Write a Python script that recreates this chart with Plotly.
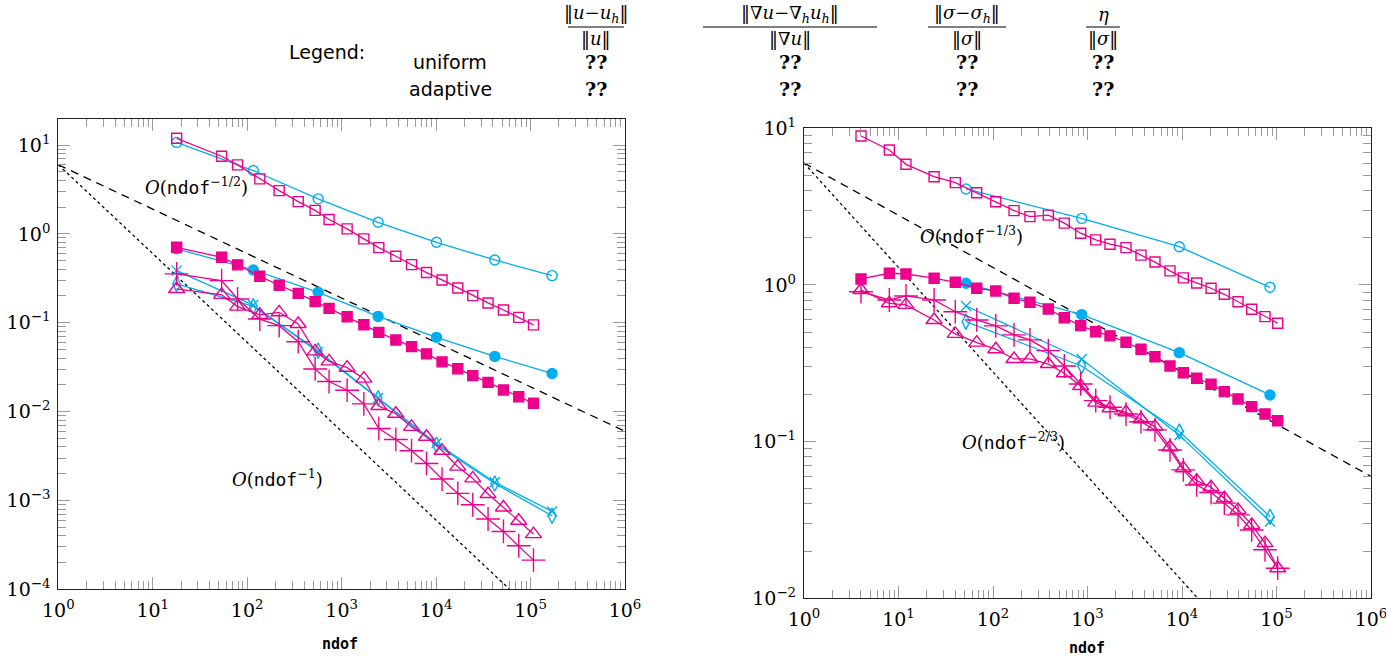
import plotly.graph_objects as go

# ---------------- data ----------------
# left plot
L_unif_ndof = [17.9, 116, 564, 2433, 10100, 41800, 169000]
L_unif_u = [10.7, 5.16, 2.48, 1.35, 0.804, 0.509, 0.339]          # open circle
L_unif_grad = [0.68, 0.393, 0.220, 0.118, 0.0685, 0.0418, 0.0269]  # filled circle
L_unif_sigma = [0.386, 0.158, 0.047, 0.0142, 0.0044, 0.0016, 0.000752]  # x
L_unif_eta = [0.2735, 0.153, 0.0485, 0.0141, 0.00424, 0.00155, 0.000673]  # diamond

L_adap_ndof = [17.9, 53.6, 79.1, 136, 218, 347, 524, 736, 1143, 1718, 2475, 3747,
               5495, 7917, 11560, 16970, 24450, 35480, 51640, 75010, 107400]
L_adap_u = [11.9, 7.48, 5.98, 4.16, 3.07, 2.31, 1.84, 1.45, 1.14, 0.878, 0.701, 0.560,
            0.451, 0.367, 0.303, 0.246, 0.202, 0.167, 0.139, 0.115, 0.0945]
L_adap_grad = [0.706, 0.545, 0.448, 0.333, 0.264, 0.214, 0.173, 0.145, 0.117, 0.0950,
               0.0779, 0.0640, 0.0538, 0.0446, 0.0363, 0.0304, 0.0254, 0.0213, 0.0175,
               0.0147, 0.0124]
L_adap_sigma = [0.355, 0.298, 0.185, 0.110, 0.0927, 0.0612, 0.0302, 0.0218, 0.0174,
                0.0122, 0.00645, 0.00486, 0.00363, 0.00261, 0.00174, 0.00120, 0.000895,
                0.000618, 0.000448, 0.000309, 0.000213]  # plus
L_adap_eta = [0.240, 0.206, 0.152, 0.1225, 0.131, 0.0969, 0.0476, 0.0367, 0.0312, 0.0235,
              0.01155, 0.00946, 0.00673, 0.00521, 0.00363, 0.00240, 0.00177, 0.00118,
              0.000834, 0.000591, 0.000418]  # triangle

# right plot
R_unif_ndof = [51.8, 868, 9360, 85350]
R_unif_u = [4.10, 2.66, 1.755, 0.966]
R_unif_grad = [1.025, 0.647, 0.370, 0.1986]
R_unif_sigma = [0.734, 0.337, 0.110, 0.0309]
R_unif_eta = [0.583, 0.304, 0.116, 0.0332]

R_adap_ndof = [4.01, 8.0, 12.0, 23.8, 39.9, 67.3, 107, 167, 246, 385, 568, 847, 1222,
               1730, 2555, 3683, 5176, 7464, 10320, 14310, 20290, 28050, 39170, 54690,
               75570, 103000]
R_adap_u = [8.93, 7.27, 5.89, 4.91, 4.50, 3.88, 3.40, 2.98, 2.73, 2.79, 2.48, 2.14, 1.94,
            1.82, 1.73, 1.55, 1.40, 1.23, 1.11, 1.03, 0.953, 0.872, 0.782, 0.700, 0.628,
            0.570]
R_adap_grad = [1.092, 1.188, 1.175, 1.104, 1.040, 0.953, 0.916, 0.822, 0.775, 0.703,
               0.618, 0.550, 0.503, 0.473, 0.431, 0.389, 0.3485, 0.304, 0.2755, 0.2538,
               0.2324, 0.2084, 0.1873, 0.1672, 0.150, 0.136]
R_adap_sigma = [0.906, 0.802, 0.851, 0.802, 0.675, 0.598, 0.548, 0.480, 0.446, 0.381,
                0.304, 0.2335, 0.1827, 0.1658, 0.150, 0.134, 0.1188, 0.0885, 0.0660,
                0.0529, 0.0473, 0.0405, 0.0341, 0.0273, 0.0204, 0.01556]
R_adap_eta = [0.929, 0.764, 0.746, 0.598, 0.487, 0.4285, 0.389, 0.337, 0.337, 0.313,
              0.273, 0.2267, 0.1774, 0.1633, 0.154, 0.139, 0.1248, 0.0921, 0.0676,
              0.0564, 0.0512, 0.0435, 0.0367, 0.0294, 0.0225, 0.01556]

# reference slopes: C * ndof^rate
ref_ndof = [1, 1e6]
ref_C = 6.0
L_rates = [(-0.5, "dash"), (-1.0, "dot")]
R_rates = [(-1.0 / 3.0, "dash"), (-2.0 / 3.0, "dot")]

x_ticks = [1, 10, 100, 1e3, 1e4, 1e5, 1e6]
x_ticktext = ["10<sup>0</sup>", "10<sup>1</sup>", "10<sup>2</sup>", "10<sup>3</sup>",
              "10<sup>4</sup>", "10<sup>5</sup>", "10<sup>6</sup>"]
L_y_ticks = [1e-4, 1e-3, 1e-2, 1e-1, 1, 10]
L_y_ticktext = ["10<sup>−4</sup>", "10<sup>−3</sup>", "10<sup>−2</sup>", "10<sup>−1</sup>",
                "10<sup>0</sup>", "10<sup>1</sup>"]
R_y_ticks = [1e-2, 1e-1, 1, 10]
R_y_ticktext = ["10<sup>−2</sup>", "10<sup>−1</sup>", "10<sup>0</sup>", "10<sup>1</sup>"]

# ---------------- styling ----------------
CYAN = "#00AEEF"
MAG = "#EC008C"
W, H = 1386, 660
SERIF = "DejaVu Serif, Liberation Serif, serif"
MONO = "DejaVu Sans Mono, Liberation Mono, monospace"
SANS = "DejaVu Sans, Liberation Sans, sans-serif"


def px(x):
    return x / W


def py(y):
    return 1 - y / H


fig = go.Figure()

series_style = [
    ("u", "circle-open", "square-open", 10, 10),
    ("grad", "circle", "square", 10, 10),
    ("sigma", "x-thin-open", "cross-thin-open", 10, 17),
    ("eta", "diamond-tall-open", "triangle-up-open", 11, 14),
]


def add_plot(xa, ya, unif_ndof, unif, adap_ndof, adap, rates):
    for r, dash in rates:
        fig.add_trace(go.Scatter(
            x=ref_ndof, y=[ref_C * n ** r for n in ref_ndof], mode="lines",
            line=dict(color="black", width=1.3, dash=dash if dash == "dot" else "8px,6px"),
            xaxis=xa, yaxis=ya, showlegend=False, hoverinfo="skip"))
    for (key, us, ads, usz, asz) in series_style:
        fig.add_trace(go.Scatter(
            x=unif_ndof, y=unif[key], mode="lines+markers",
            line=dict(color=CYAN, width=1.3),
            marker=dict(symbol=us, size=usz, color=CYAN, line=dict(color=CYAN, width=1.4)),
            xaxis=xa, yaxis=ya, showlegend=False))
    for (key, us, ads, usz, asz) in series_style:
        fig.add_trace(go.Scatter(
            x=adap_ndof, y=adap[key], mode="lines+markers",
            line=dict(color=MAG, width=1.3),
            marker=dict(symbol=ads, size=asz, color=MAG, line=dict(color=MAG, width=1.4)),
            xaxis=xa, yaxis=ya, showlegend=False))


add_plot("x", "y", L_unif_ndof,
         dict(u=L_unif_u, grad=L_unif_grad, sigma=L_unif_sigma, eta=L_unif_eta),
         L_adap_ndof,
         dict(u=L_adap_u, grad=L_adap_grad, sigma=L_adap_sigma, eta=L_adap_eta), L_rates)
add_plot("x2", "y2", R_unif_ndof,
         dict(u=R_unif_u, grad=R_unif_grad, sigma=R_unif_sigma, eta=R_unif_eta),
         R_adap_ndof,
         dict(u=R_adap_u, grad=R_adap_grad, sigma=R_adap_sigma, eta=R_adap_eta), R_rates)

TICKC = "#9a9a9a"
common = dict(
    type="log", showgrid=False, zeroline=False, showline=True, linecolor="#222",
    linewidth=1.3, mirror="allticks", ticks="inside", ticklen=12, tickcolor=TICKC,
    tickwidth=1.2, tickfont=dict(family=SERIF, size=19, color="black"), automargin=False,
    ticklabeloverflow="allow",
    minor=dict(ticks="inside", ticklen=8, tickcolor=TICKC, tickwidth=1.2, dtick="D1",
               showgrid=False),
)

fig.update_layout(
    width=W, height=H, margin=dict(l=0, r=0, t=0, b=0, autoexpand=False),
    paper_bgcolor="white", plot_bgcolor="white", showlegend=False,
    xaxis=dict(common, domain=[px(58.3), px(625)], range=[0, 6], tickvals=x_ticks,
               ticktext=x_ticktext, anchor="y", ticklabelstandoff=4),
    yaxis=dict(common, domain=[py(589.3), py(119)], range=[-4, 1.293], tickvals=L_y_ticks,
               ticktext=L_y_ticktext, anchor="x", ticklabelstandoff=3),
    xaxis2=dict(common, domain=[px(804), px(1371)], range=[0, 6], tickvals=x_ticks,
                ticktext=x_ticktext, anchor="y2", ticklabelstandoff=4),
    yaxis2=dict(common, domain=[py(598.3), py(128.3)], range=[-2, 1], tickvals=R_y_ticks,
                ticktext=R_y_ticktext, anchor="x2", ticklabelstandoff=3),
)

ann = []


def text(x, y, s, font, size, xanchor="center"):
    ann.append(dict(x=px(x), y=py(y), xref="paper", yref="paper", text=s, showarrow=False,
                    xanchor=xanchor, yanchor="middle",
                    font=dict(family=font, size=size, color="black")))


# axis titles
text(340, 644, "<b>ndof</b>", MONO, 15)
text(1087, 648, "<b>ndof</b>", MONO, 15)

# rate annotations
nd = "<span style='font-family:DejaVu Sans Mono'>ndof</span>"
text(196, 186, "<i>O</i>(" + nd + "<sup>−1/2</sup>)", SERIF, 18)
text(277, 478, "<i>O</i>(" + nd + "<sup>−1</sup>)", SERIF, 18)
text(971, 235, "<i>O</i>(" + nd + "<sup>−1/3</sup>)", SERIF, 18)
text(1013, 441, "<i>O</i>(" + nd + "<sup>−2/3</sup>)", SERIF, 18)

# legend header
text(327, 52, "Legend:", SANS, 19)
text(450, 62, "uniform", SANS, 19)
text(450, 89, "adaptive", SANS, 19)

cols = [
    (596, "‖<i>u</i>−<i>u<sub>h</sub></i>‖", "‖<i>u</i>‖", 568, 624),
    (790, "‖∇<i>u</i>−∇<sub><i>h</i></sub><i>u<sub>h</sub></i>‖", "‖∇<i>u</i>‖", 703, 877),
    (967, "‖<i>σ</i>−<i>σ<sub>h</sub></i>‖", "‖<i>σ</i>‖", 928, 1006),
    (1103, "<i>η</i>", "‖<i>σ</i>‖", 1086, 1120),
]
shapes = []
for cx, num, den, x0, x1 in cols:
    text(cx, 14, num, SERIF, 18)
    text(cx, 39, den, SERIF, 18)
    shapes.append(dict(type="line", xref="paper", yref="paper", x0=px(x0), x1=px(x1),
                       y0=py(27), y1=py(27), line=dict(color="black", width=1)))
    text(cx, 62, "<b>??</b>", SERIF, 19)
    text(cx, 89, "<b>??</b>", SERIF, 19)

fig.update_layout(annotations=ann, shapes=shapes)

fig.write_html("out.html")
